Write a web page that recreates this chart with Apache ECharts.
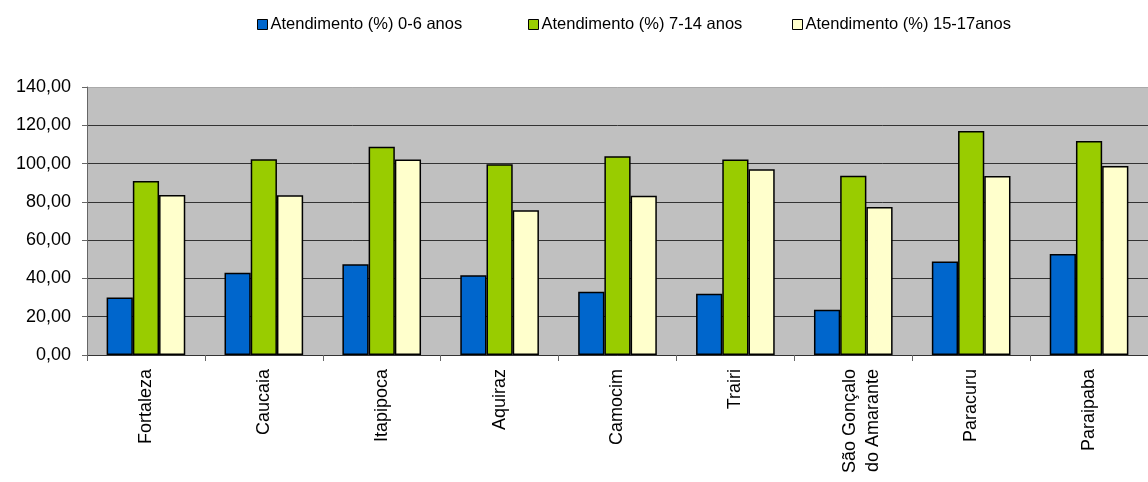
<!DOCTYPE html>
<html>
<head>
<meta charset="utf-8">
<script src="https://cdn.jsdelivr.net/npm/echarts@6/dist/echarts.min.js"></script>
<style>
html,body{margin:0;padding:0;background:#fff;}
#chart{width:1148px;height:482px;}
</style>
</head>
<body>
<div id="chart"></div>
<script>
const categories = ["Fortaleza", "Caucaia", "Itapipoca", "Aquiraz", "Camocim", "Trairi", "São Gonçalo\ndo Amarante", "Paracuru", "Paraipaba"];
const seriesNames = ["Atendimento (%) 0-6 anos", "Atendimento (%) 7-14 anos", "Atendimento (%) 15-17anos"];
const values0to6 = [30.1, 43.0, 47.4, 41.6, 33.1, 32.0, 23.7, 48.8, 52.8];
const values7to14 = [90.9, 102.2, 108.8, 99.6, 103.8, 102.1, 93.7, 117.0, 111.8];
const values15to17 = [83.6, 83.4, 102.1, 75.6, 83.2, 97.0, 77.3, 93.5, 98.7];
const yTicks = [0, 20, 40, 60, 80, 100, 120, 140];

const colors = ["#0066CC", "#99CC00", "#FFFFCC"];
const font = "Liberation Sans, Arial, sans-serif";

const chart = echarts.init(document.getElementById('chart'), null, {renderer: 'canvas'});
const mk = (name, data, color) => ({
  name: name,
  type: 'bar',
  data: data,
  barGap: '0%',
  barCategoryGap: '33.3%',
  itemStyle: {color: color, borderColor: '#000', borderWidth: 1.5},
  emphasis: {disabled: true}
});
const legendLefts = [252, 523, 787];
const legends = seriesNames.map((n, i) => ({
  top: 11,
  left: legendLefts[i],
  itemWidth: 10,
  itemHeight: 10,
  icon: 'rect',
  textStyle: {fontFamily: font, fontSize: 16.5, color: '#000', padding: [0,0,0,-2]},
  itemStyle: {borderColor: '#000', borderWidth: 1},
  data: [n]
}));
chart.setOption({
  animation: false,
  backgroundColor: '#fff',
  textStyle: {fontFamily: font},
  legend: legends,
  grid: {left: 87, top: 87, bottom: 127, right: -13, show: true, backgroundColor: '#C0C0C0', borderWidth: 0},
  xAxis: {
    type: 'category',
    data: categories,
    axisLine: {lineStyle: {color: '#333', width: 1}},
    axisTick: {show: true, length: 6, lineStyle: {color: '#666'}},
    axisLabel: {rotate: 90, margin: 14, fontSize: 18, color: '#000', fontFamily: font, interval: 0, lineHeight: 23,
      formatter: v => {
        const parts = v.split('\n');
        if (parts.length < 2) return v;
        return parts.map(s => '{m|' + s + '}').join('\n');
      },
      rich: {
        m: {fontSize: 18, lineHeight: 23, fontFamily: font, color: '#000', padding: [16, 0, 0, 0]}
      }
    }
  },
  yAxis: {
    type: 'value',
    min: yTicks[0],
    max: yTicks[yTicks.length - 1],
    interval: 20,
    axisLine: {show: true, lineStyle: {color: '#666', width: 1}},
    axisTick: {show: true, length: 5, lineStyle: {color: '#666'}},
    axisLabel: {margin: 16, fontSize: 18, color: '#000', fontFamily: font,
      formatter: v => v.toFixed(2).replace('.', ',')},
    splitLine: {show: true, lineStyle: {color: ['#333','#333','#333','#333','#333','#333','#333','#aaa'], width: 1}}
  },
  series: [
    mk(seriesNames[0], values0to6, colors[0]),
    mk(seriesNames[1], values7to14, colors[1]),
    mk(seriesNames[2], values15to17, colors[2])
  ]
});
</script>
</body>
</html>
